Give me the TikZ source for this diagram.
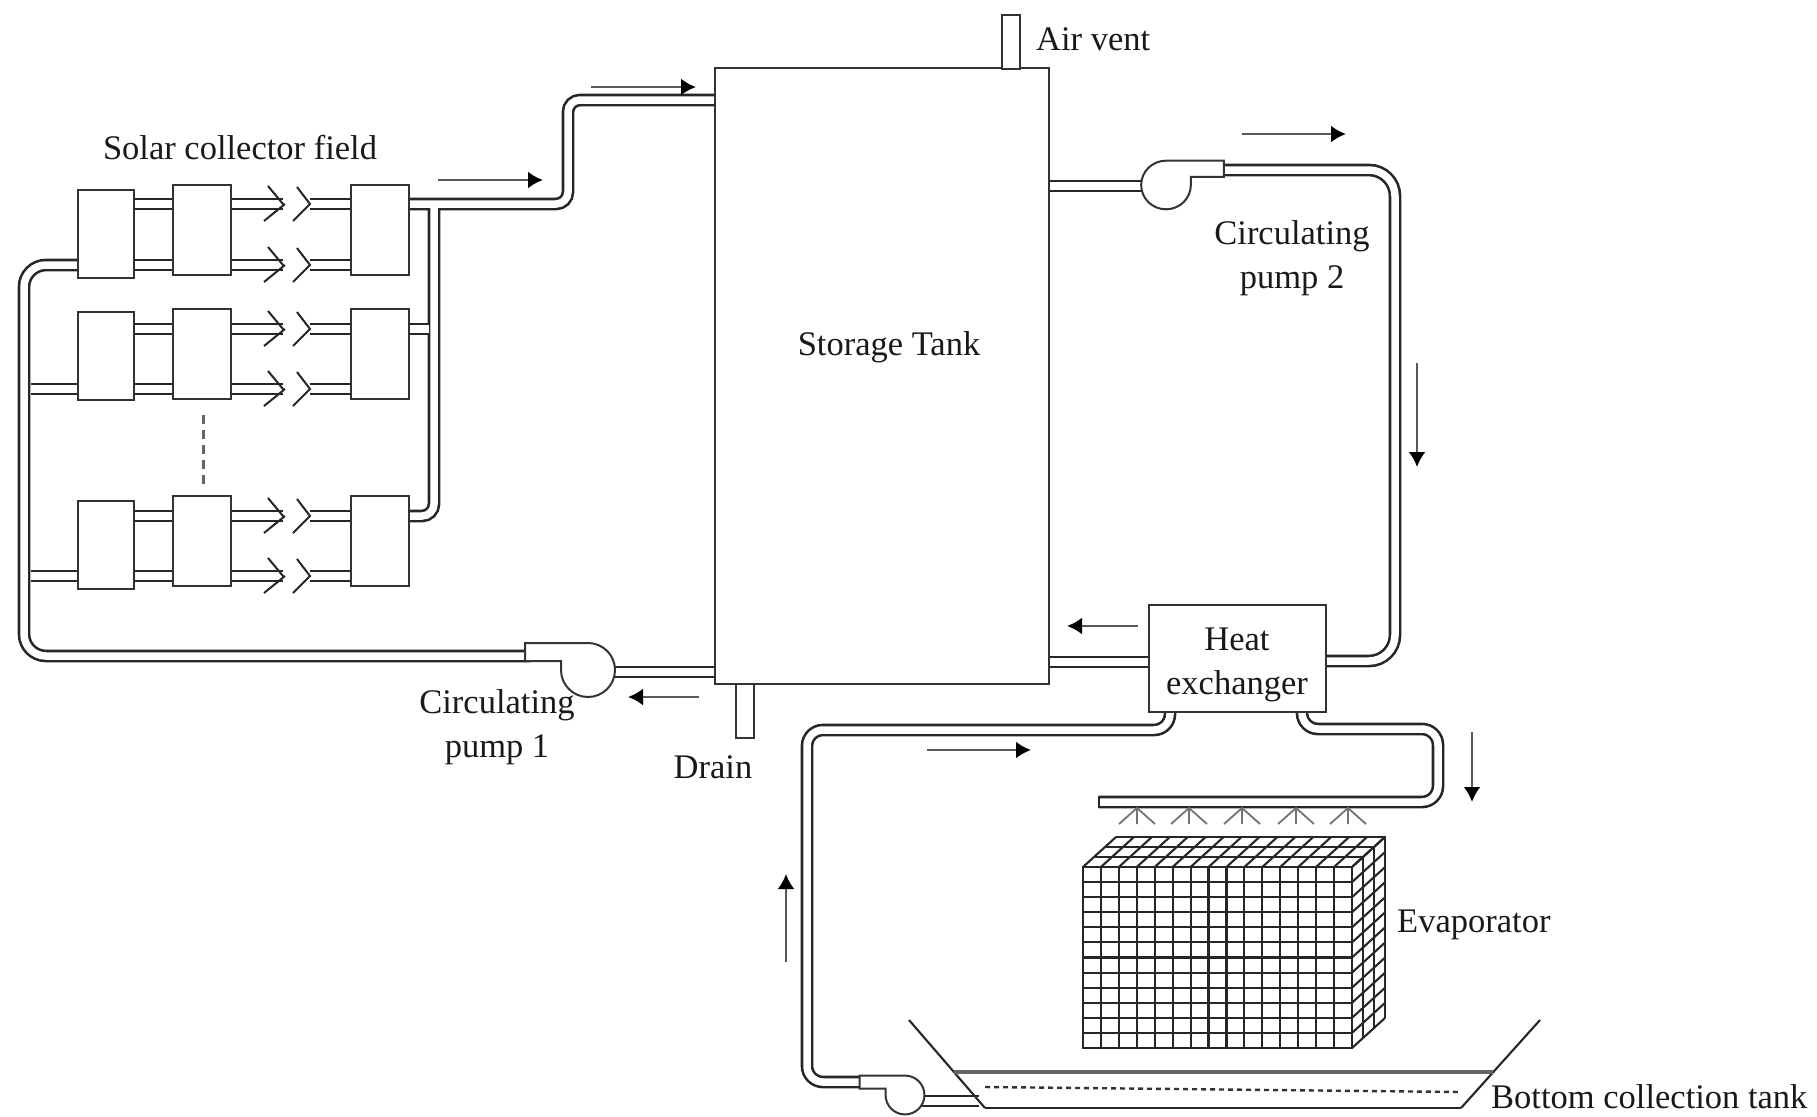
\documentclass[tikz,border=0pt]{standalone}
\usepackage{fontspec}
\setmainfont{Liberation Serif}
\usetikzlibrary{arrows.meta, positioning, backgrounds}

\begin{document}
\begin{tikzpicture}[
    x=1pt, y=-1pt,
    collector/.style={draw=black!80, fill=white, line width=2.2pt, inner sep=0pt, outer sep=0pt},
    vessel/.style={draw=black!80, fill=white, line width=2pt, inner sep=0pt, outer sep=0pt, align=center},
    pipe/.style={draw=black!85, double=white, double distance=7.5pt, line width=2.6pt, rounded corners=16pt},
    flow/.style={-{Latex[length=15pt, width=17pt, black]}, line width=2.6pt, draw=black!65},
    tag/.style={font=\fontsize{34.5}{44}\selectfont, text=black!90, align=center, inner sep=0pt},
    thinline/.style={draw=black!85, line width=2.1pt},
    pump/.pic={\draw[draw=black!80, fill=white, line width=2pt] (-63,-27) -- (0,-27) arc[start angle=90, end angle=-180, radius=27pt] -- (-27,-9) -- (-63,-9) -- cycle;}
]
\useasboundingbox (0,0) rectangle (1817,1116);

% Collector field
\foreach \r/\ya/\yb in {1/234/230, 2/356/354, 3/545/541} {
    \node[collector, minimum width=56pt, minimum height=88pt] (c\r1) at (106,\ya) {};
    \node[collector, minimum width=58pt, minimum height=90pt] (c\r2) at (202,\yb) {};
    \node[collector, minimum width=58pt, minimum height=90pt] (c\r3) at (380,\yb) {};
}
\node[tag] (field) at (240,148) {Solar collector field};
\draw[draw=black!60, line width=3pt, dash pattern=on 9pt off 6pt] (203,415) -- (203,487);

% Storage tank
\node[vessel, minimum width=334pt, minimum height=616pt] (tank) at (882,376) {};
\node[tag] (tanktext) at (889,347) {Storage Tank};
\node[vessel, minimum width=18pt, minimum height=54pt] (vent) at (1011,42) {};
\node[vessel, minimum width=18pt, minimum height=54pt] (drain) at (745,711) {};
\node[tag, right=16pt of vent, yshift=3pt] (venttext) {Air vent};
\node[tag] (draintext) at (713,767) {Drain};

% Heat exchanger
\node[vessel, line width=2.6pt, minimum width=177pt, minimum height=107pt] (hx) at (1237.5,658.5) {};
\node[tag] (hxtext) at (1237,665) {Heat\\ exchanger};

% Evaporator
\node[vessel, minimum width=269pt, minimum height=181pt] (evap) at (1217.5,957.5) {};
\foreach \i in {0,...,15} {
    \draw[thinline] ({1083+\i*17.93},867) -- ({1083+\i*17.93},1048);
    \draw[thinline] ({1083+\i*17.93},867) -- ({1116+\i*17.93},837);
}
\foreach \i in {0,...,12} {
    \draw[thinline] (1083,{867+\i*15.08}) -- (1352,{867+\i*15.08});
    \draw[thinline] (1352,{867+\i*15.08}) -- (1385,{837+\i*15.08});
}
\foreach \k in {1,2,3} {
    \draw[thinline] ({1083+\k*11},{867-\k*10}) -- ({1352+\k*11},{867-\k*10}) -- ({1352+\k*11},{1048-\k*10});
}
\node[tag, anchor=west] (evaptext) at (1397,925) {Evaporator};

% Spray nozzles
\foreach \x in {1137,1189,1242,1296,1348} {
    \draw[draw=black!55, line width=1.8pt] ({\x-18},824) -- (\x,808) -- ({\x+18},824) (\x,808) -- (\x,824);
}

% Bottom tank
\draw[thinline] (909,1020) -- (985,1108);
\draw[thinline, line width=2.8pt] (985,1108) -- (1461,1108);
\draw[thinline] (1461,1108) -- (1540,1020);
\draw[draw=black!60, line width=3.2pt] (954,1072) -- (1493,1072);
\draw[draw=black!80, line width=2.4pt, dash pattern=on 5pt off 4pt] (985,1087) -- (1461,1092);
\node[tag, anchor=west] (basintext) at (1491,1097) {Bottom collection tank};

% Pumps
\coordinate (pumpa) at (588,670);
\coordinate (pumpb) at (1166,185);
\coordinate (pumpc) at (905,1095);
\coordinate (pumpain) at (530,656);
\coordinate (pumpbout) at (1222,170);
\coordinate (pumpcin) at (860,1082);
\pic at (pumpa) {pump};
\pic[xscale=-.92, yscale=.9] at (pumpb) {pump};
\pic[scale=.72] at (pumpc) {pump};
\node[tag] (pumpatext) at (497,727) {Circulating\\ pump 1};
\node[tag] (pumpbtext) at (1292,258) {Circulating\\ pump 2};

% Pipes
\begin{scope}[on background layer]
    \foreach \y in {204,265,329,389,516,576} {
        \draw[pipe] (c11.east |- 0,\y) -- (c12.west |- 0,\y);
        \coordinate (tip\y) at (283,\y);
        \coordinate (joint\y) at (310,\y);
        \draw[pipe] (c12.east |- 0,\y) -- (tip\y);
        \draw[pipe] (joint\y) -- (c13.west |- 0,\y);
    }
    \draw[pipe, rounded corners=12pt] (c13.east |- 0,204) -- (568,204) -- (568,100) -- (tank.west |- 0,100)
        (434,204) -- (434,516) -- (c33.east |- 0,516);
    \draw[pipe] (c23.east |- 0,329) -- (429,329);
    \draw[pipe] (31,389) -- (c21.west |- 0,389);
    \draw[pipe] (31,576) -- (c31.west |- 0,576);
    \draw[pipe, rounded corners=22pt] (c11.west |- 0,265) -- (24,265) -- (24,656) -- (pumpain);
    \draw[pipe] (pumpa |- 0,672) -- (tank.west |- 0,672);
    \draw[pipe] (tank.east |- 0,186) -- (pumpb |- 0,186);
    \draw[pipe, rounded corners=26pt] (pumpbout) -- (1395,170) -- (1395,661) -- (hx.east |- 0,661);
    \draw[pipe] (hx.west |- 0,662) -- (tank.east |- 0,662);
    \draw[pipe] (hx.south -| 1170,712) -- (1170,730) -- (807,730) -- (807,1082) -- (pumpcin);
    \draw[pipe] (hx.south -| 1302,712) -- (1302,729) -- (1438,729) -- (1438,802) -- (1099,802);
    \draw[pipe] (pumpc |- 0,1101) -- (979,1101);
\end{scope}
\draw[draw=black!85, line width=2.6pt] (1099,796) -- (1099,808);

% Pipe couplings
\foreach \y in {204,265,329,389,516,576} {
    \draw[thinline, line width=2pt] (268,{\y-18}) -- (tip\y) ++(2,0) -- (264,{\y+17});
    \draw[thinline, line width=2pt] (297,{\y-17}) -- (joint\y) -- (293,{\y+17});
}

% Flow arrows
\foreach \n/\xa/\ya/\xb/\yb in {a/438/180/543/180, b/591/87/696/87, c/699/697/628/697, d/1242/134/1346/134, e/1417/363/1417/467, f/1138/626/1067/626, g/927/750/1031/750, h/1472/732/1472/802, i/786/962/786/874} {
    \coordinate (flow\n s) at (\xa,\ya);
    \coordinate (flow\n e) at (\xb,\yb);
    \draw[flow] (flow\n s) -- (flow\n e);
}
\end{tikzpicture}
\end{document}
